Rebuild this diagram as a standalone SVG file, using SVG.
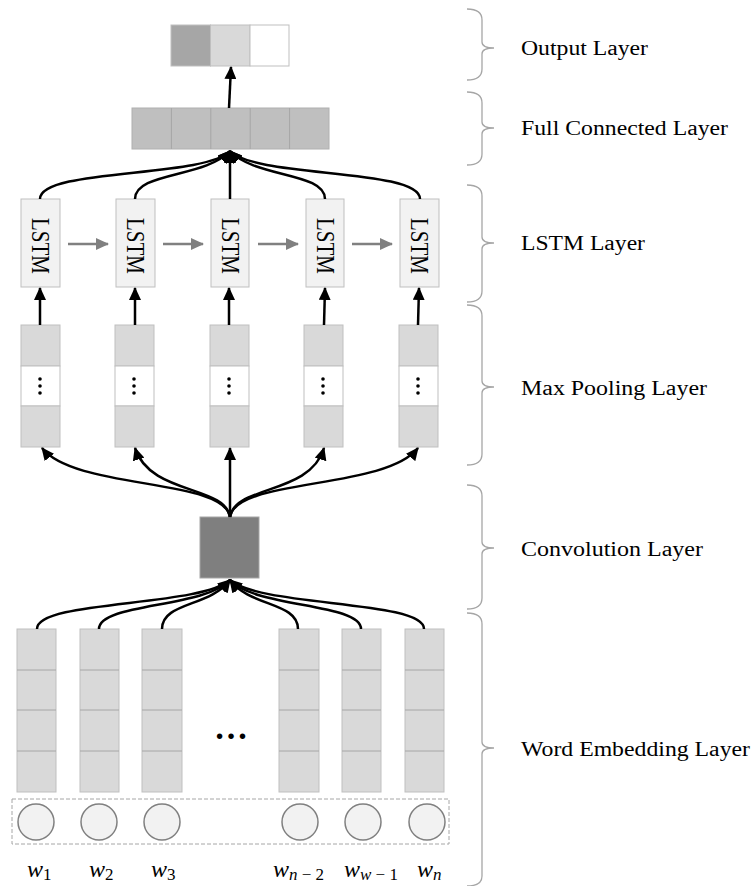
<svg xmlns="http://www.w3.org/2000/svg" width="756" height="886" viewBox="0 0 756 886">
<style>
.lbl{font-family:"Liberation Serif","Times New Roman",serif;font-size:20px;fill:#000}
.brace{fill:none;stroke:#a6a6a6;stroke-width:1.3}
.conn{fill:none;stroke:#000;stroke-width:2.5}
.gconn{fill:none;stroke:#808080;stroke-width:2.5}
.lstm{fill:#f2f2f2;stroke:#bfbfbf;stroke-width:1}
.lstmt{font-family:"Liberation Serif","Times New Roman",serif;font-size:21px;fill:#000;text-anchor:middle}
.mp{fill:#d9d9d9;stroke:#bfbfbf;stroke-width:1}
.mpm{fill:#fff;stroke:#bfbfbf;stroke-width:1}
.emb{fill:#d9d9d9;stroke:#bfbfbf;stroke-width:1}
.div{stroke:#a6a6a6;stroke-width:1}
.fc{fill:#bfbfbf;stroke:#b0b0b0;stroke-width:1}
.circ{fill:#f2f2f2;stroke:#808080;stroke-width:1.5}
.wl{font-family:"Liberation Serif","Times New Roman",serif;font-size:24px;fill:#000}
.sub{font-size:17px;font-style:normal}
.it{font-style:italic}
.dot{fill:#000}
</style>
<defs>
<marker id="ah" markerWidth="13" markerHeight="12" refX="12" refY="6" orient="auto" markerUnits="userSpaceOnUse"><path d="M0,0 L13,6 L0,12 z" fill="#000"/></marker>
<marker id="ahg" markerWidth="13" markerHeight="12" refX="12" refY="6" orient="auto" markerUnits="userSpaceOnUse"><path d="M0,0 L13,6 L0,12 z" fill="#808080"/></marker>
</defs>

<!-- Output layer -->
<g id="output">
<rect x="171" y="25" width="39.5" height="41" fill="#a6a6a6" stroke="#bfbfbf"/>
<rect x="210.5" y="25" width="39.5" height="41" fill="#d9d9d9" stroke="#bfbfbf"/>
<rect x="250" y="25" width="39" height="41" fill="#fff" stroke="#bfbfbf"/>
</g>

<!-- Full connected layer -->
<g id="fc">
<rect class="fc" x="132" y="108" width="197" height="41"/>
<line class="div" x1="171.4" y1="108" x2="171.4" y2="149"/>
<line class="div" x1="210.8" y1="108" x2="210.8" y2="149"/>
<line class="div" x1="250.2" y1="108" x2="250.2" y2="149"/>
<line class="div" x1="289.6" y1="108" x2="289.6" y2="149"/>
</g>

<!-- LSTM layer -->
<g id="lstm1"><rect class="lstm" x="21" y="199" width="39" height="88"/><text class="lstmt" transform="translate(40.5,246) scale(1.2,1) rotate(90)" x="0" y="7">LSTM</text></g>
<g id="lstm2"><rect class="lstm" x="116" y="199" width="39" height="88"/><text class="lstmt" transform="translate(135.5,246) scale(1.2,1) rotate(90)" x="0" y="7">LSTM</text></g>
<g id="lstm3"><rect class="lstm" x="211" y="199" width="38" height="88"/><text class="lstmt" transform="translate(230,246) scale(1.2,1) rotate(90)" x="0" y="7">LSTM</text></g>
<g id="lstm4"><rect class="lstm" x="306" y="199" width="38" height="88"/><text class="lstmt" transform="translate(325,246) scale(1.2,1) rotate(90)" x="0" y="7">LSTM</text></g>
<g id="lstm5"><rect class="lstm" x="400" y="199" width="39" height="88"/><text class="lstmt" transform="translate(419.5,246) scale(1.2,1) rotate(90)" x="0" y="7">LSTM</text></g>

<!-- Max pooling layer -->
<g id="mp1"><rect class="mp" x="21" y="325" width="39" height="41"/><rect class="mpm" x="21" y="366" width="39" height="40"/><rect class="mp" x="21" y="406" width="39" height="41"/><circle class="dot" cx="40" cy="379" r="1.8"/><circle class="dot" cx="40" cy="386" r="1.8"/><circle class="dot" cx="40" cy="393" r="1.8"/></g>
<g id="mp2"><rect class="mp" x="115" y="325" width="39" height="41"/><rect class="mpm" x="115" y="366" width="39" height="40"/><rect class="mp" x="115" y="406" width="39" height="41"/><circle class="dot" cx="134" cy="379" r="1.8"/><circle class="dot" cx="134" cy="386" r="1.8"/><circle class="dot" cx="134" cy="393" r="1.8"/></g>
<g id="mp3"><rect class="mp" x="210" y="325" width="39" height="41"/><rect class="mpm" x="210" y="366" width="39" height="40"/><rect class="mp" x="210" y="406" width="39" height="41"/><circle class="dot" cx="229" cy="379" r="1.8"/><circle class="dot" cx="229" cy="386" r="1.8"/><circle class="dot" cx="229" cy="393" r="1.8"/></g>
<g id="mp4"><rect class="mp" x="304" y="325" width="39" height="41"/><rect class="mpm" x="304" y="366" width="39" height="40"/><rect class="mp" x="304" y="406" width="39" height="41"/><circle class="dot" cx="323" cy="379" r="1.8"/><circle class="dot" cx="323" cy="386" r="1.8"/><circle class="dot" cx="323" cy="393" r="1.8"/></g>
<g id="mp5"><rect class="mp" x="399" y="325" width="39" height="41"/><rect class="mpm" x="399" y="366" width="39" height="40"/><rect class="mp" x="399" y="406" width="39" height="41"/><circle class="dot" cx="418" cy="379" r="1.8"/><circle class="dot" cx="418" cy="386" r="1.8"/><circle class="dot" cx="418" cy="393" r="1.8"/></g>

<!-- Convolution -->
<g id="conv"><rect x="200" y="517" width="59" height="61" fill="#7f7f7f" stroke="#a6a6a6"/></g>

<!-- Word embedding columns -->
<g id="emb1"><rect class="emb" x="17" y="629" width="39" height="163"/><line class="div" x1="17" y1="670" x2="56" y2="670"/><line class="div" x1="17" y1="710" x2="56" y2="710"/><line class="div" x1="17" y1="751" x2="56" y2="751"/></g>
<g id="emb2"><rect class="emb" x="80" y="629" width="39" height="163"/><line class="div" x1="80" y1="670" x2="119" y2="670"/><line class="div" x1="80" y1="710" x2="119" y2="710"/><line class="div" x1="80" y1="751" x2="119" y2="751"/></g>
<g id="emb3"><rect class="emb" x="142" y="629" width="40" height="163"/><line class="div" x1="142" y1="670" x2="182" y2="670"/><line class="div" x1="142" y1="710" x2="182" y2="710"/><line class="div" x1="142" y1="751" x2="182" y2="751"/></g>
<g id="emb4"><rect class="emb" x="279" y="629" width="40" height="163"/><line class="div" x1="279" y1="670" x2="319" y2="670"/><line class="div" x1="279" y1="710" x2="319" y2="710"/><line class="div" x1="279" y1="751" x2="319" y2="751"/></g>
<g id="emb5"><rect class="emb" x="342" y="629" width="39" height="163"/><line class="div" x1="342" y1="670" x2="381" y2="670"/><line class="div" x1="342" y1="710" x2="381" y2="710"/><line class="div" x1="342" y1="751" x2="381" y2="751"/></g>
<g id="emb6"><rect class="emb" x="405" y="629" width="39" height="163"/><line class="div" x1="405" y1="670" x2="444" y2="670"/><line class="div" x1="405" y1="710" x2="444" y2="710"/><line class="div" x1="405" y1="751" x2="444" y2="751"/></g>
<g id="ellipsis"><text x="231" y="739" font-family="Liberation Serif, serif" font-size="34" font-weight="bold" text-anchor="middle">…</text></g>

<!-- Input words -->
<g id="input">
<rect x="12" y="799" width="437" height="45" fill="none" stroke="#a6a6a6" stroke-width="1" stroke-dasharray="4 2"/>
<circle class="circ" cx="36" cy="822" r="18"/>
<circle class="circ" cx="99" cy="822" r="18"/>
<circle class="circ" cx="162" cy="822" r="18"/>
<circle class="circ" cx="300" cy="822" r="18"/>
<circle class="circ" cx="363" cy="822" r="18"/>
<circle class="circ" cx="427" cy="822" r="18"/>
</g>
<g id="labels-w">
<text class="wl" x="27" y="877"><tspan class="it">w</tspan><tspan class="sub" dy="3">1</tspan></text>
<text class="wl" x="89" y="877"><tspan class="it">w</tspan><tspan class="sub" dy="3">2</tspan></text>
<text class="wl" x="151" y="877"><tspan class="it">w</tspan><tspan class="sub" dy="3">3</tspan></text>
<text class="wl" x="273" y="877"><tspan class="it">w</tspan><tspan class="sub" dy="3"><tspan class="it">n</tspan> − 2</tspan></text>
<text class="wl" x="344" y="877"><tspan class="it">w</tspan><tspan class="sub" dy="3"><tspan class="it">w</tspan> − 1</tspan></text>
<text class="wl" x="417" y="877"><tspan class="it">w</tspan><tspan class="sub it" dy="3">n</tspan></text>
</g>

<!-- Connectors -->
<g id="connectors">
<path class="conn" d="M229,108 L231,67" marker-end="url(#ah)"/>
<path class="conn" d="M40,199 C40,168 205,178 230,151" marker-end="url(#ah)"/>
<path class="conn" d="M135,199 C135,172 205,178 230,151" marker-end="url(#ah)"/>
<path class="conn" d="M230,199 L230,151" marker-end="url(#ah)"/>
<path class="conn" d="M325,199 C325,172 255,178 230,151" marker-end="url(#ah)"/>
<path class="conn" d="M420,199 C420,168 255,178 230,151" marker-end="url(#ah)"/>
<path class="gconn" d="M68,244 L108,244" marker-end="url(#ahg)"/>
<path class="gconn" d="M163,244 L203,244" marker-end="url(#ahg)"/>
<path class="gconn" d="M258,244 L298,244" marker-end="url(#ahg)"/>
<path class="gconn" d="M352,244 L392,244" marker-end="url(#ahg)"/>
<path class="conn" d="M40,325 L40,288" marker-end="url(#ah)"/>
<path class="conn" d="M135,325 L135,288" marker-end="url(#ah)"/>
<path class="conn" d="M229,325 L229,288" marker-end="url(#ah)"/>
<path class="conn" d="M324,325 L325,288" marker-end="url(#ah)"/>
<path class="conn" d="M418,325 L419,288" marker-end="url(#ah)"/>
<path class="conn" d="M230,517 C225,478 75,490 42,448" marker-end="url(#ah)"/>
<path class="conn" d="M230,517 C225,485 150,495 135,448" marker-end="url(#ah)"/>
<path class="conn" d="M230,517 L230,448" marker-end="url(#ah)"/>
<path class="conn" d="M230,517 C235,485 310,495 324,448" marker-end="url(#ah)"/>
<path class="conn" d="M230,517 C235,478 385,490 418,448" marker-end="url(#ah)"/>
<path class="conn" d="M37,629 C37,600 200,607 230,580" marker-end="url(#ah)"/>
<path class="conn" d="M99,629 C99,603 205,608 230,580" marker-end="url(#ah)"/>
<path class="conn" d="M162,629 C162,602 210,607 230,580" marker-end="url(#ah)"/>
<path class="conn" d="M298,629 C298,602 250,607 230,580" marker-end="url(#ah)"/>
<path class="conn" d="M361,629 C361,603 255,608 230,580" marker-end="url(#ah)"/>
<path class="conn" d="M424,629 C424,600 260,607 230,580" marker-end="url(#ah)"/>
</g>

<!-- Layer braces and labels -->
<g id="layer-output">
<path class="brace" d="M467,9 Q482,9 482,20 L482,42 Q482,48 494,48 Q482,48 482,54 L482,69 Q482,80 467,80"/>
<text class="lbl" x="521" y="55" textLength="127" lengthAdjust="spacingAndGlyphs">Output Layer</text>
</g>
<g id="layer-fc">
<path class="brace" d="M467,92 Q482,92 482,103 L482,122 Q482,128 494,128 Q482,128 482,134 L482,154 Q482,165 467,165"/>
<text class="lbl" x="521" y="135" textLength="207" lengthAdjust="spacingAndGlyphs">Full Connected Layer</text>
</g>
<g id="layer-lstm">
<path class="brace" d="M467,185 Q482,185 482,196 L482,237 Q482,243 494,243 Q482,243 482,249 L482,291 Q482,302 467,302"/>
<text class="lbl" x="521" y="250" textLength="124" lengthAdjust="spacingAndGlyphs">LSTM Layer</text>
</g>
<g id="layer-mp">
<path class="brace" d="M467,305 Q482,305 482,316 L482,381 Q482,387 494,387 Q482,387 482,393 L482,454 Q482,465 467,465"/>
<text class="lbl" x="521" y="395" textLength="186" lengthAdjust="spacingAndGlyphs">Max Pooling Layer</text>
</g>
<g id="layer-conv">
<path class="brace" d="M467,485 Q482,485 482,496 L482,542 Q482,548 494,548 Q482,548 482,554 L482,598 Q482,609 467,609"/>
<text class="lbl" x="521" y="556" textLength="182" lengthAdjust="spacingAndGlyphs">Convolution Layer</text>
</g>
<g id="layer-emb">
<path class="brace" d="M467,613 Q482,613 482,624 L482,742 Q482,748 494,748 Q482,748 482,754 L482,876 Q482,886 467,886"/>
<text class="lbl" x="521" y="756" textLength="229" lengthAdjust="spacingAndGlyphs">Word Embedding Layer</text>
</g>
</svg>
